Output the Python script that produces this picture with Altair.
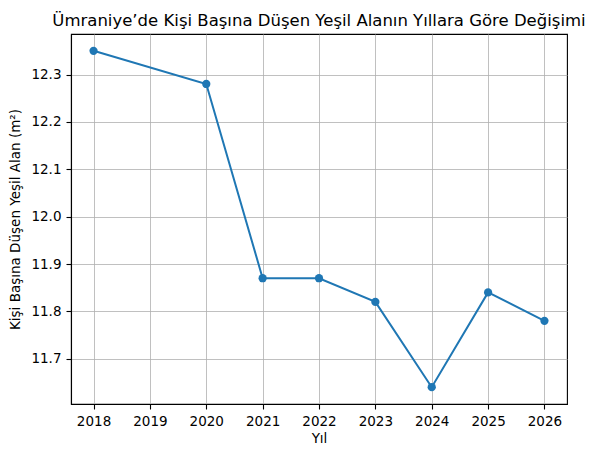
import altair as alt
import pandas as pd

years = [2018, 2020, 2021, 2022, 2023, 2024, 2025, 2026]
values = [12.35, 12.28, 11.87, 11.87, 11.82, 11.64, 11.84, 11.78]
x_ticks = [2018, 2019, 2020, 2021, 2022, 2023, 2024, 2025, 2026]
y_ticks = [11.7, 11.8, 11.9, 12.0, 12.1, 12.2, 12.3]

df = pd.DataFrame({"Yıl": years, "Alan": values})

font = "DejaVu Sans"
color = "#1f77b4"

x_enc = alt.X("Yıl:Q",
              scale=alt.Scale(domain=[2017.6, 2026.4], nice=False, zero=False),
              axis=alt.Axis(values=x_ticks, format="d", title="Yıl"))
y_enc = alt.Y("Alan:Q",
              scale=alt.Scale(domain=[11.6045, 12.3855], nice=False, zero=False),
              axis=alt.Axis(values=y_ticks, format=".1f",
                            title="Kişi Başına Düşen Yeşil Alan (m²)"))

line = alt.Chart(df).mark_line(color=color, strokeWidth=2).encode(x=x_enc, y=y_enc)
pts = alt.Chart(df).mark_circle(color=color, size=68, opacity=1).encode(x=x_enc, y=y_enc)

chart = alt.layer(line, pts).properties(
    width=496, height=370,
    title=alt.TitleParams("Ümraniye’de Kişi Başına Düşen Yeşil Alanın Yıllara Göre Değişimi",
                          font=font, fontSize=16.5, fontWeight="normal", color="black",
                          offset=5, anchor="middle"),
    autosize=alt.AutoSizeParams(type="none"),
    padding={"left": 63, "top": 26, "right": 20, "bottom": 50},
).configure_view(stroke="black", strokeWidth=1.1).configure_axis(
    labelFont=font, titleFont=font, labelFontSize=13.5, titleFontSize=13.5,
    labelColor="black", titleColor="black", titleFontWeight="normal",
    domainColor="black", tickColor="black", tickSize=5, tickWidth=1.1, domainWidth=1.1,
    labelPadding=5, gridColor="#b0b0b0", gridWidth=0.8, grid=True,
).configure_axisX(titlePadding=4).configure_axisY(titlePadding=8)

chart.save("out.html", embed_options={"renderer": "svg", "actions": False})
